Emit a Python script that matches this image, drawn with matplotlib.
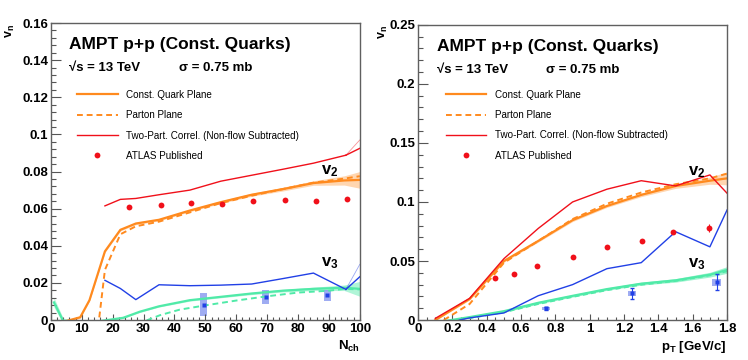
import numpy as np
import matplotlib
matplotlib.use('Agg')
import matplotlib.pyplot as plt
from matplotlib.ticker import MultipleLocator, FuncFormatter, AutoMinorLocator

plt.rcParams['font.family'] = ['Liberation Sans', 'DejaVu Sans']
plt.rcParams['mathtext.fontset'] = 'custom'
plt.rcParams['mathtext.rm'] = 'Liberation Sans'
plt.rcParams['mathtext.it'] = 'Liberation Sans'
plt.rcParams['mathtext.bf'] = 'Liberation Sans:bold'

ORANGE = '#ff8a1e'
RED = '#f0101a'
BLUE = '#2140e6'
AQUA = '#50eaa8'
LBLUE = '#7f90ee'

# ---------------- left panel: vs N_ch ----------------
nch_cq = [1.5, 4, 9.5, 12.5, 17.5, 22.5, 27.5, 35, 45, 55, 65, 75, 85, 95, 100]
v2_cq_nch = [-0.004, -0.001, 0.0015, 0.0107, 0.037, 0.0486, 0.052, 0.054, 0.059, 0.0635, 0.0675, 0.0705, 0.0738, 0.0752, 0.0755]
v2_cq_nch_err = [0.001, 0.001, 0.0005, 0.0005, 0.0006, 0.0006, 0.0006, 0.0006, 0.0006, 0.0007, 0.0008, 0.001, 0.0012, 0.0025, 0.0045]
nch_pp = [1.5, 9.5, 15.5, 17.5, 22.5, 27.5, 35, 45, 55, 65, 75, 85, 95, 100]
v2_pp_nch = [-0.004, -0.004, -0.001, 0.027, 0.0462, 0.0505, 0.053, 0.058, 0.063, 0.067, 0.0705, 0.074, 0.0762, 0.0775]
nch_tp = [17.5, 22.5, 27.5, 35, 45, 55, 65, 75, 85, 95.5]
v2_tp_nch = [0.0615, 0.065, 0.0655, 0.0675, 0.070, 0.0748, 0.078, 0.0812, 0.0845, 0.0888]
v2_tp_nch_end = [0.0925, 0.097]
v3_tp_nch = [0.0214, 0.017, 0.011, 0.019, 0.0185, 0.0188, 0.0194, 0.0223, 0.0253, 0.0165]
v3_tp_nch_end = [0.0233, 0.030]
nch_v3 = [1.0, 4, 10, 17, 23.4, 28.8, 35, 45, 55, 65, 75, 85, 95, 100]
v3_cq_nch = [0.0095, -0.0005, -0.002, -0.0003, 0.0012, 0.0045, 0.0074, 0.0107, 0.0125, 0.0143, 0.0158, 0.0168, 0.0174, 0.0168]
v3_cq_nch_err = [0.0025, 0.0015, 0.001, 0.0004, 0.0004, 0.0004, 0.0004, 0.0005, 0.0005, 0.0006, 0.0007, 0.0009, 0.0015, 0.004]
nch_v3pp = [31, 35.3, 41.7, 50, 60, 70, 80, 90, 95, 100]
v3_pp_nch = [-0.0002, 0.0026, 0.0056, 0.0079, 0.0105, 0.0128, 0.0148, 0.0158, 0.0168, 0.0165]
atlas_nch_v2 = [25.3, 35.5, 45.3, 55.5, 65.5, 75.8, 85.8, 95.7]
atlas_v2_nch = [0.0607, 0.0621, 0.0631, 0.0625, 0.0642, 0.0648, 0.0642, 0.0654]
atlas_nch_v3 = [49.5, 69.5, 89.5]
atlas_v3_nch = [0.0083, 0.0124, 0.0134]
atlas_v3_nch_sys = [0.006, 0.0036, 0.003]

# ---------------- right panel: vs pT ----------------
pt = [0.1, 0.3, 0.5, 0.7, 0.9, 1.1, 1.3, 1.5, 1.7, 1.8]
v2_cq_pt = [0.0, 0.0178, 0.0500, 0.0670, 0.0846, 0.0966, 0.1060, 0.1135, 0.1180, 0.1200]
v2_cq_pt_err = [0.0005, 0.0008, 0.001, 0.001, 0.0012, 0.0012, 0.0015, 0.002, 0.003, 0.0055]
pt_pp = [0.15, 0.3, 0.5, 0.7, 0.9, 1.1, 1.3, 1.5, 1.7, 1.8]
v2_pp_pt = [0.0, 0.0136, 0.0485, 0.0670, 0.0855, 0.0985, 0.1080, 0.1150, 0.1200, 0.1240]
v2_tp_pt = [0.0014, 0.0184, 0.0520, 0.0776, 0.1000, 0.1108, 0.1180, 0.1136, 0.1229, 0.1074]
pt_v3tp = [0.24, 0.3, 0.5, 0.7, 0.9, 1.1, 1.3, 1.5, 1.7, 1.8]
v3_tp_pt = [0.0, 0.0018, 0.0060, 0.0206, 0.0300, 0.0435, 0.0486, 0.0748, 0.0620, 0.0932]
pt_v3 = [0.15, 0.3, 0.5, 0.7, 0.9, 1.1, 1.3, 1.5, 1.7, 1.8]
v3_cq_pt = [-0.001, 0.0025, 0.0075, 0.0146, 0.0205, 0.0262, 0.0308, 0.0336, 0.0384, 0.0424]
v3_cq_pt_err = [0.0005, 0.0008, 0.001, 0.001, 0.001, 0.001, 0.0012, 0.0015, 0.002, 0.0028]
v3_pp_pt = [-0.002, 0.0015, 0.0065, 0.0135, 0.0195, 0.0252, 0.0298, 0.0330, 0.0378, 0.0412]
atlas_pt_v2 = [0.447, 0.556, 0.695, 0.901, 1.103, 1.303, 1.484, 1.695]
atlas_v2_pt = [0.0357, 0.0391, 0.0459, 0.0538, 0.0619, 0.0670, 0.0745, 0.0780]
atlas_v2_pt_err = [0.0012, 0.0012, 0.0012, 0.0012, 0.0012, 0.0015, 0.002, 0.0032]
atlas_pt_v3 = [0.746, 1.245, 1.740]
atlas_v3_pt = [0.0099, 0.0226, 0.0320]
atlas_v3_pt_err = [0.0012, 0.0048, 0.0068]
atlas_v3_pt_sys = [0.0015, 0.0022, 0.0028]


def fmt(v, pos):
    return f'{round(v, 4):g}'


def style_axes(ax, xmaj, xminor_n, ymaj, yminor_n):
    ax.xaxis.set_major_locator(MultipleLocator(xmaj))
    ax.xaxis.set_minor_locator(AutoMinorLocator(xminor_n))
    ax.yaxis.set_major_locator(MultipleLocator(ymaj))
    ax.yaxis.set_minor_locator(AutoMinorLocator(yminor_n))
    ax.xaxis.set_major_formatter(FuncFormatter(fmt))
    ax.yaxis.set_major_formatter(FuncFormatter(fmt))
    ax.tick_params(axis='x', which='major', direction='in', length=4.5, width=0.8, pad=2,
                   labelsize=9.5, color='#555555')
    ax.tick_params(axis='x', which='minor', direction='in', length=2.2, width=0.8, color='#555555')
    ax.tick_params(axis='y', which='major', direction='in', length=7, width=0.8, pad=2,
                   labelsize=9.5, color='#555555')
    ax.tick_params(axis='y', which='minor', direction='in', length=3.5, width=0.8, color='#555555')
    for lab in ax.get_xticklabels() + ax.get_yticklabels():
        lab.set_fontweight('bold')
    for sp in ax.spines.values():
        sp.set_color('#606060')
        sp.set_linewidth(1.0)


def header(ax, ty):
    ax.text(0.06, ty, 'AMPT p+p (Const. Quarks)', transform=ax.transAxes,
            fontsize=12.5, fontweight='bold', va='center', ha='left')
    ax.text(0.06, ty - 0.078, '√s = 13 TeV', transform=ax.transAxes,
            fontsize=9.5, fontweight='bold', va='center', ha='left')
    ax.text(0.415, ty - 0.078, 'σ = 0.75 mb', transform=ax.transAxes,
            fontsize=9.5, fontweight='bold', va='center', ha='left')


fig = plt.figure(figsize=(7.48, 3.6), dpi=100)
axL = fig.add_axes([0.068, 0.111, 0.413, 0.825])
axR = fig.add_axes([0.559, 0.111, 0.413, 0.820])

# ----- left -----
ax = axL
a = np.array
ax.fill_between(nch_cq, a(v2_cq_nch) - a(v2_cq_nch_err), a(v2_cq_nch) + a(v2_cq_nch_err),
                color=ORANGE, alpha=0.35, lw=0)
ax.fill_between(nch_v3, a(v3_cq_nch) - a(v3_cq_nch_err), a(v3_cq_nch) + a(v3_cq_nch_err),
                color=AQUA, alpha=0.45, lw=0)
l_cq, = ax.plot(nch_cq, v2_cq_nch, color=ORANGE, lw=1.6, label='Const. Quark Plane')
l_pp, = ax.plot(nch_pp, v2_pp_nch, color=ORANGE, lw=1.4, ls=(0, (3, 2)), label='Parton Plane')
l_tp, = ax.plot(nch_tp, v2_tp_nch, color=RED, lw=1.0, label='Two-Part. Correl. (Non-flow Subtracted)')
ax.plot([nch_tp[-1], 100], [v2_tp_nch[-1], v2_tp_nch_end[0]], color=RED, lw=1.0)
ax.plot([nch_tp[-1], 100], [v2_tp_nch[-1], v2_tp_nch_end[1]], color=RED, lw=0.6, alpha=0.45)
ax.plot(nch_v3, v3_cq_nch, color=AQUA, lw=1.6)
ax.plot(nch_v3pp, v3_pp_nch, color=AQUA, lw=1.4, ls=(0, (3, 2)))
ax.plot(nch_tp, v3_tp_nch, color=BLUE, lw=1.0)
ax.plot([nch_tp[-1], 100], [v3_tp_nch[-1], v3_tp_nch_end[0]], color=BLUE, lw=1.0)
ax.plot([nch_tp[-1], 100], [v3_tp_nch[-1], v3_tp_nch_end[1]], color=BLUE, lw=0.6, alpha=0.45)
l_at, = ax.plot(atlas_nch_v2, atlas_v2_nch, 'o', color=RED, ms=4.2, mec='none', label='ATLAS Published')
for x, y, s in zip(atlas_nch_v3, atlas_v3_nch, atlas_v3_nch_sys):
    ax.add_patch(plt.Rectangle((x - 1.1, y - s), 2.2, 2 * s, color=LBLUE, alpha=0.75, lw=0))
ax.plot(atlas_nch_v3, atlas_v3_nch, 's', color=BLUE, ms=3.5, mec='none')
ax.set_xlim(0, 100)
ax.set_ylim(0, 0.16)
style_axes(ax, 10, 5, 0.02, 5)
header(ax, 0.928)
ax.legend(handles=[l_cq, l_pp, l_tp, l_at], loc='upper left', bbox_to_anchor=(0.085, 0.775),
          frameon=False, fontsize=7.1, handlelength=4.1, handletextpad=0.9, labelspacing=1.05,
          borderpad=0, borderaxespad=0, numpoints=1)
ax.text(0.875, 0.5, '$\\mathbf{v_2}$', transform=ax.transAxes, fontsize=12, ha='left', va='center')
ax.text(0.875, 0.19, '$\\mathbf{v_3}$', transform=ax.transAxes, fontsize=12, ha='left', va='center')
fig.text(0.014, 0.915, '$\\mathbf{v_n}$', rotation=90, fontsize=9, ha='center', va='center')
ax.text(1.0, -0.065, '$\\mathbf{N_{ch}}$', transform=ax.transAxes, fontsize=9.5, ha='right', va='top')

# ----- right -----
ax = axR
ax.fill_between(pt, a(v2_cq_pt) - a(v2_cq_pt_err), a(v2_cq_pt) + a(v2_cq_pt_err),
                color=ORANGE, alpha=0.35, lw=0)
ax.fill_between(pt_v3, a(v3_cq_pt) - a(v3_cq_pt_err), a(v3_cq_pt) + a(v3_cq_pt_err),
                color=AQUA, alpha=0.55, lw=0)
r_cq, = ax.plot(pt, v2_cq_pt, color=ORANGE, lw=1.6, label='Const. Quark Plane')
r_pp, = ax.plot(pt_pp, v2_pp_pt, color=ORANGE, lw=1.4, ls=(0, (3, 2)), label='Parton Plane')
r_tp, = ax.plot(pt, v2_tp_pt, color=RED, lw=1.0, label='Two-Part. Correl. (Non-flow Subtracted)')
ax.plot(pt_v3, v3_cq_pt, color=AQUA, lw=1.6)
ax.plot(pt_v3, v3_pp_pt, color=AQUA, lw=1.2, ls=(0, (3, 2)))
ax.plot(pt_v3tp, v3_tp_pt, color=BLUE, lw=1.0)
ax.errorbar(atlas_pt_v2, atlas_v2_pt, yerr=atlas_v2_pt_err, fmt='o', color=RED, ms=4.2,
            mec='none', elinewidth=0.8, capsize=0)
r_at, = ax.plot([], [], 'o', color=RED, ms=4.2, mec='none', label='ATLAS Published')
for x, y, s in zip(atlas_pt_v3, atlas_v3_pt, atlas_v3_pt_sys):
    ax.add_patch(plt.Rectangle((x - 0.025, y - s), 0.05, 2 * s, color=LBLUE, alpha=0.75, lw=0))
ax.errorbar(atlas_pt_v3, atlas_v3_pt, yerr=atlas_v3_pt_err, fmt='s', color=BLUE, ms=3.5,
            mec='none', elinewidth=0.8, capsize=1.5)
ax.set_xlim(0, 1.8)
ax.set_ylim(0, 0.25)
style_axes(ax, 0.2, 4, 0.05, 5)
header(ax, 0.926)
ax.legend(handles=[r_cq, r_pp, r_tp, r_at], loc='upper left', bbox_to_anchor=(0.09, 0.78),
          frameon=False, fontsize=7.1, handlelength=4.1, handletextpad=0.9, labelspacing=1.05,
          borderpad=0, borderaxespad=0, numpoints=1)
ax.text(0.875, 0.5, '$\\mathbf{v_2}$', transform=ax.transAxes, fontsize=12, ha='left', va='center')
ax.text(0.875, 0.19, '$\\mathbf{v_3}$', transform=ax.transAxes, fontsize=12, ha='left', va='center')
fig.text(0.512, 0.91, '$\\mathbf{v_n}$', rotation=90, fontsize=9, ha='center', va='center')
ax.text(1.0, -0.065, '$\\mathbf{p_T}$ [GeV/c]', transform=ax.transAxes, fontsize=9.5,
        fontweight='bold', ha='right', va='top')

fig.savefig('out.png', dpi=100)
